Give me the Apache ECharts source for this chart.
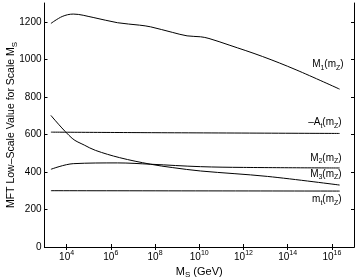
<!DOCTYPE html>
<html><head><meta charset="utf-8">
<script src="https://cdn.jsdelivr.net/npm/echarts@6/dist/echarts.min.js"></script>
<style>html,body{margin:0;padding:0;background:#fff}#c{width:357px;height:280px}</style>
</head><body><div id="c"></div>
<script>
// x values are log10(M_S / GeV)
const xTicks = [4, 6, 8, 10, 12, 14, 16];
const yTicks = [0, 200, 400, 600, 800, 1000, 1200];
const m1X = [3.29, 3.8, 4.3, 5.2, 6.3, 7.3, 7.8, 8.8, 9.45, 10.06, 10.44, 11.35, 12.86, 14.38, 16.35];
const m1Y = [1191, 1228, 1241, 1223, 1195, 1182, 1173, 1143, 1125, 1120, 1111, 1076, 1015, 944, 841];
const atX = [3.29, 8.0, 16.35];
const atY = [612, 609, 605];
const m2X = [3.29, 4.3, 6.3, 7.8, 10.06, 12.0, 16.35];
const m2Y = [414, 444, 448, 441, 428, 424, 421];
const m3X = [3.29, 4.25, 4.8, 5.3, 6.4, 7.8, 8.8, 10.06, 13.09, 16.35];
const m3Y = [701, 579, 543, 515, 476, 441, 423, 405, 376, 330];
const mtX = [3.29, 16.35];
const mtY = [300, 298];
const names = ['M{s|1}(m{s|Z})', '–A{s|t}(m{s|Z})', 'M{s|2}(m{s|Z})', 'M{s|3}(m{s|Z})', 'm{s|t}(m{s|Z})'];

const FONT = 'Liberation Sans';
const richSmall = {
  s: { fontSize: 7, fontFamily: FONT, color: '#000', verticalAlign: 'bottom', lineHeight: 7, padding: [7, 0, 0, 0] }
};
const richBig = {
  s: { fontSize: 8, fontFamily: FONT, color: '#000', verticalAlign: 'bottom', lineHeight: 8, padding: [7, 0, 0, 0] }
};
function zip(a, b) { return a.map((v, i) => [v, b[i]]); }
function mk(name, xs, ys, off) {
  return {
    type: 'line', data: zip(xs, ys), showSymbol: false, smooth: 0.35,
    lineStyle: { color: '#000', width: 1 }, silent: true, animation: false,
    endLabel: {
      show: true, formatter: name, distance: 0, align: 'right', verticalAlign: 'middle',
      offset: off, fontSize: 10, lineHeight: 14, fontFamily: FONT, color: '#000', rich: richSmall
    }
  };
}
const chart = echarts.init(document.getElementById('c'));
const axisLine = { show: true, lineStyle: { color: '#000', width: 1 } };
chart.setOption({
  animation: false,
  grid: { left: 44.5, right: 3, top: 3, bottom: 33, containLabel: false, outerBoundsMode: 'none' },
  xAxis: [{
    type: 'value', min: 3, max: 17, position: 'bottom',
    name: 'M{s|S} (GeV)', nameLocation: 'middle', nameGap: 17, nameMoveOverlap: false,
    nameTextStyle: { fontSize: 11, lineHeight: 15, fontFamily: FONT, color: '#000', rich: richBig },
    axisLine: axisLine, splitLine: { show: false },
    axisTick: { show: true, inside: true, length: 3, customValues: xTicks, lineStyle: { color: '#000' } },
    axisLabel: {
      customValues: xTicks, margin: 3, color: '#000',
      formatter: v => '{b|10}{p|' + v + '}',
      rich: {
        b: { fontSize: 10, fontFamily: FONT, color: '#000', lineHeight: 14 },
        p: { fontSize: 7, fontFamily: FONT, color: '#000', verticalAlign: 'top', lineHeight: 7, padding: [0, 0, 7, 0] }
      }
    }
  }, {
    type: 'value', min: 3, max: 17, position: 'top',
    axisLine: axisLine, splitLine: { show: false },
    axisTick: { show: true, inside: true, length: 3, customValues: xTicks, lineStyle: { color: '#000' } },
    axisLabel: { show: false }
  }],
  yAxis: [{
    type: 'value', min: 0, max: 1300, position: 'left',
    name: 'MFT Low–Scale Value for Scale M{s|S}', nameLocation: 'middle', nameGap: 26, nameMoveOverlap: false,
    nameTextStyle: { fontSize: 10.5, lineHeight: 15, fontFamily: FONT, color: '#000', rich: richBig },
    axisLine: axisLine, splitLine: { show: false },
    axisTick: { show: true, inside: true, length: 3, customValues: yTicks, lineStyle: { color: '#000' } },
    axisLabel: { customValues: yTicks, margin: 3, fontSize: 10, fontFamily: FONT, color: '#000', formatter: v => String(v) }
  }, {
    type: 'value', min: 0, max: 1300, position: 'right',
    axisLine: axisLine, splitLine: { show: false },
    axisTick: { show: true, inside: true, length: 3, customValues: yTicks, lineStyle: { color: '#000' } },
    axisLabel: { show: false }
  }],
  series: [
    mk(names[0], m1X, m1Y, [4, -25]),
    mk(names[1], atX, atY, [2, -11]),
    mk(names[2], m2X, m2Y, [2, -10]),
    mk(names[3], m3X, m3Y, [2, -11]),
    mk(names[4], mtX, mtY, [2, 8])
  ]
});
</script></body></html>
